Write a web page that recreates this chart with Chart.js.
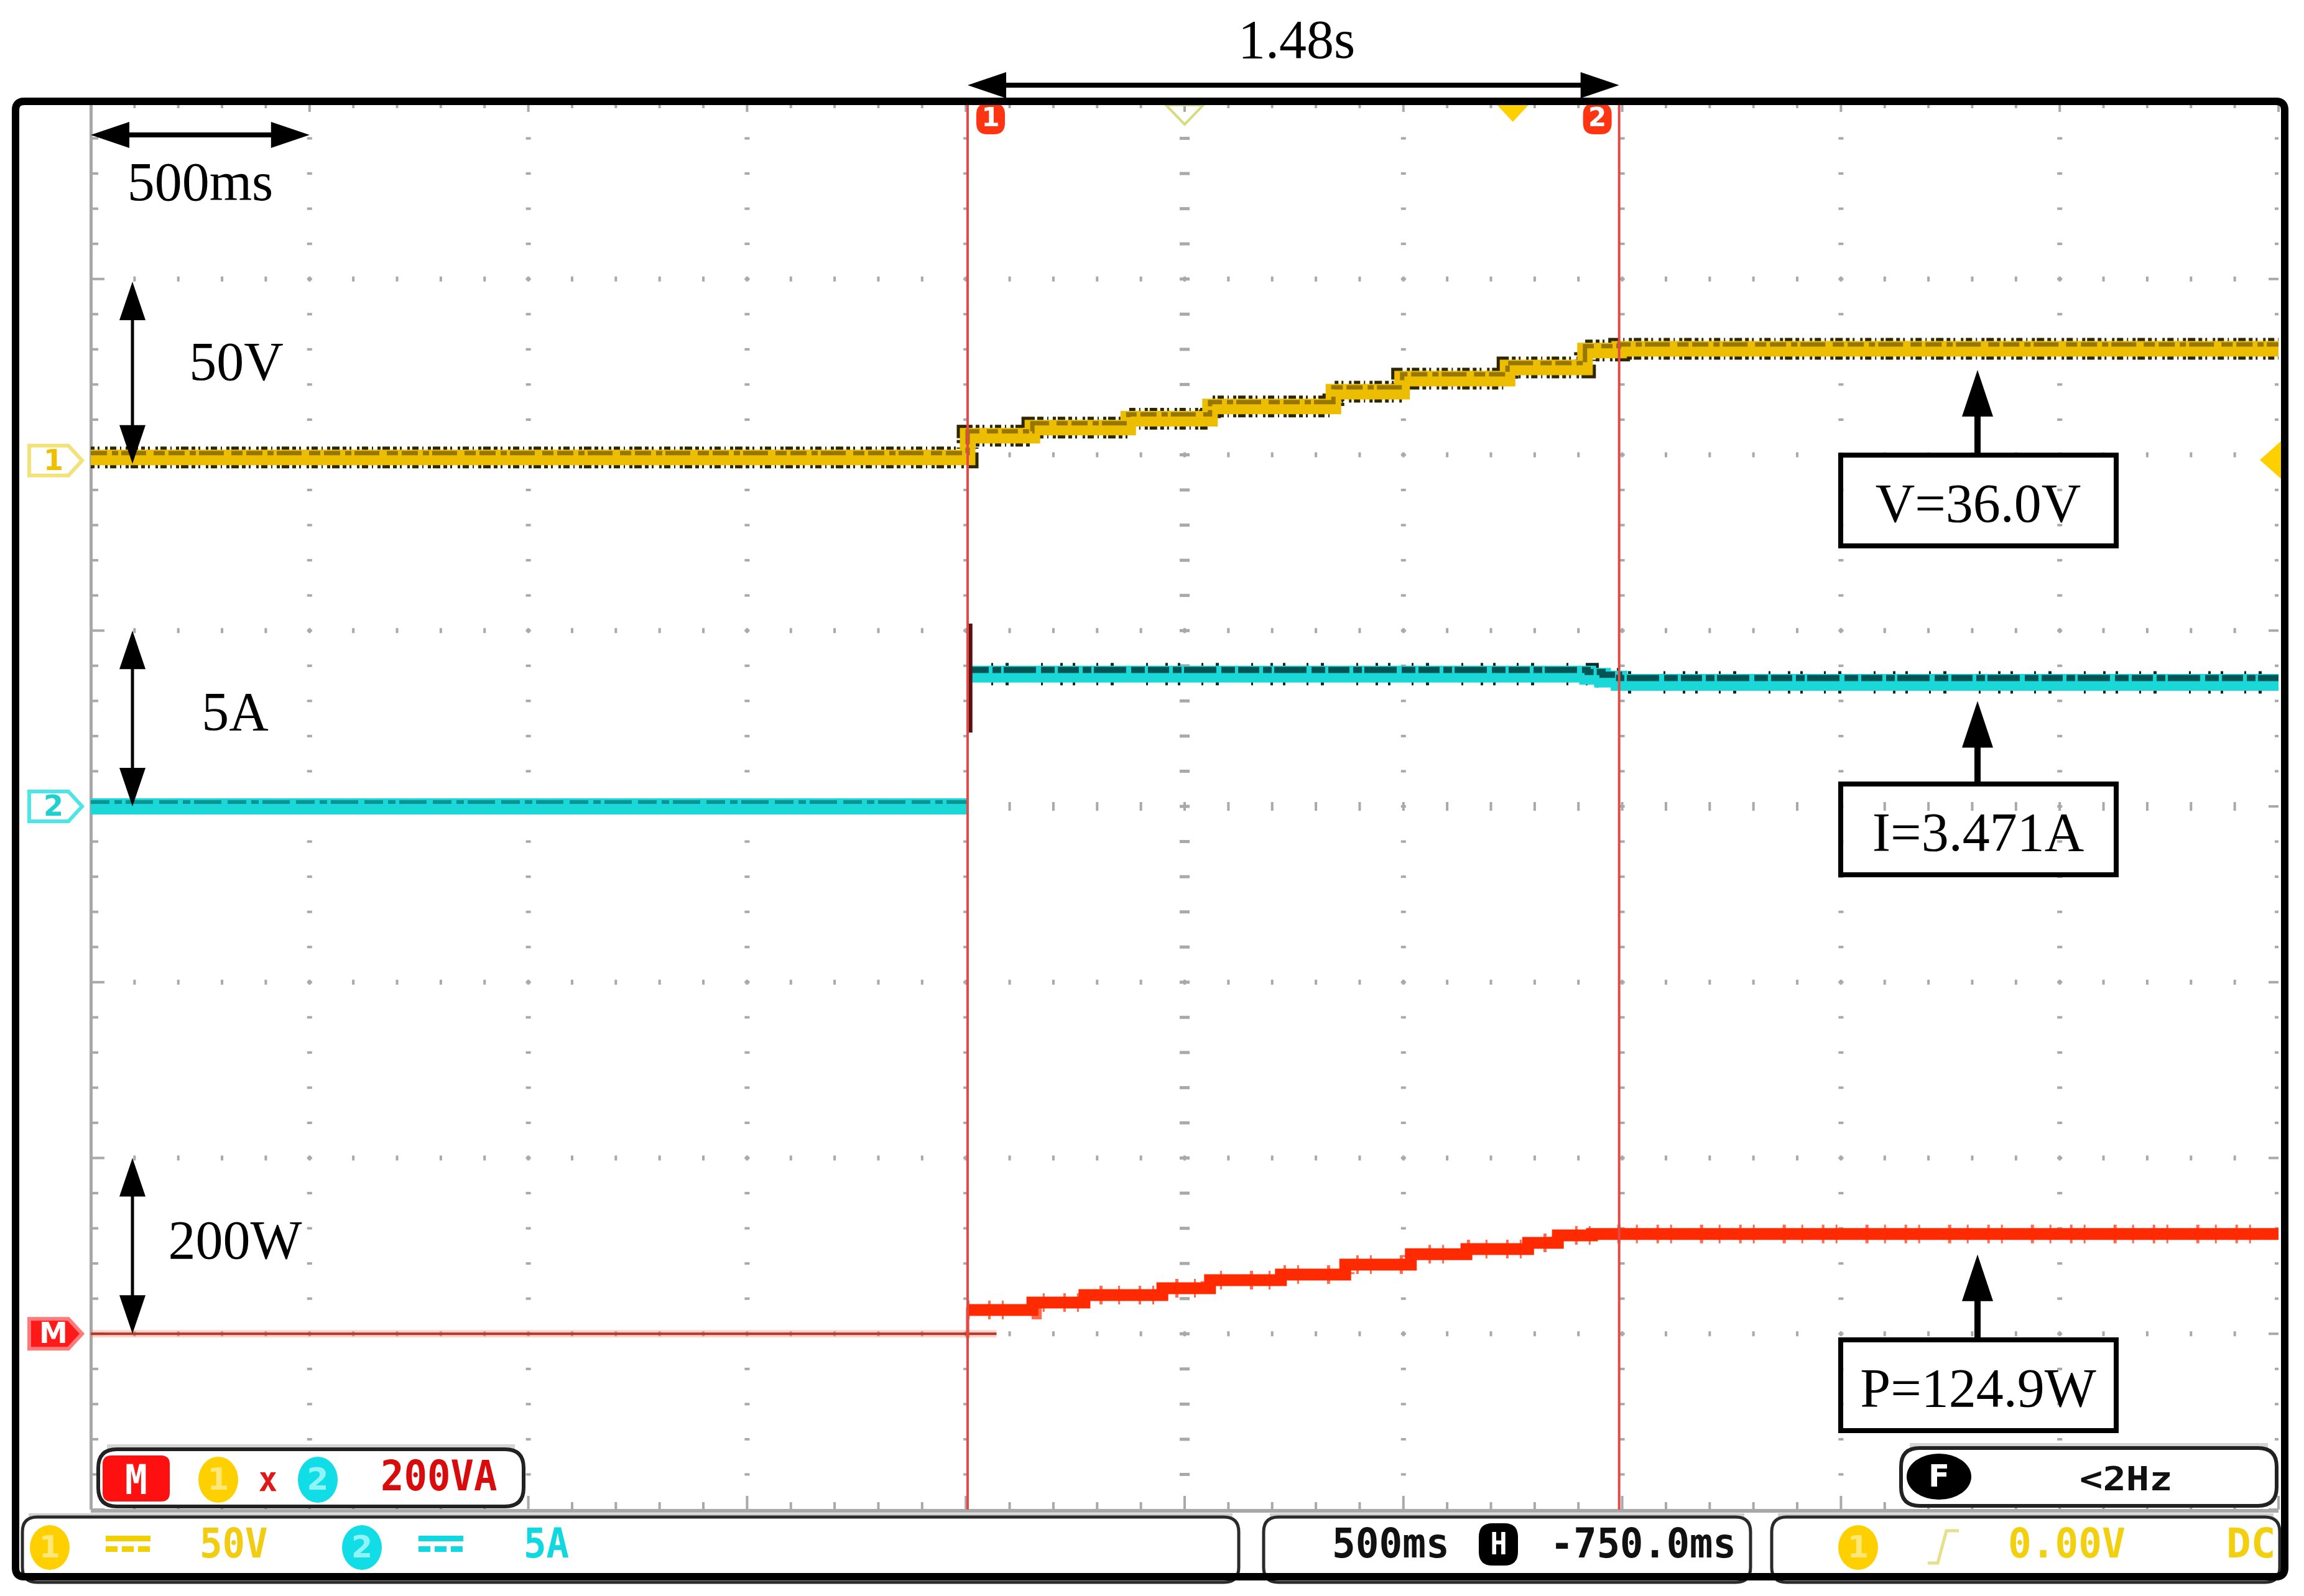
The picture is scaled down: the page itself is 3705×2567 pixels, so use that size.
<!DOCTYPE html>
<html>
<head>
<meta charset="utf-8">
<script src="https://cdn.jsdelivr.net/npm/chart.js@4.4.1/dist/chart.umd.min.js"></script>
<style>
  html, body { margin: 0; padding: 0; background: #fff; overflow: hidden; }
  canvas { display: block; }
</style>
</head>
<body>
<canvas id="scope" width="3705" height="2567"></canvas>
<script>
// scope settings: 10 x 8 divisions, 500 ms/div, trigger at t = 0
const timeRange = [-3.25, 1.75];
const timePerDiv = 0.5;
const voltsPerDiv = 50, ampsPerDiv = 5, wattsPerDiv = 200;
const cursorTimes = [-1.246, 0.243];

// CH1 voltage (V), stepped as the scope quantises it
const voltTimes  = [-3.25, -1.246, -1.098, -0.879, -0.692, -0.410, -0.253, -0.012, 0.165, 0.243, 1.75];
const voltValues = [0, 6.2, 8.5, 11.0, 14.5, 18.7, 22.4, 25.6, 30.4, 30.9, 30.9];

// CH2 current (A), before and after the step
const currOffTimes  = [-3.25, -1.246];
const currOffValues = [0, 0];
const currTimes  = [-1.246, 0.171, 0.205, 0.243, 1.75];
const currValues = [3.76, 3.70, 3.62, 3.53, 3.53];
const spikeTimes  = [-1.24, -1.24];
const spikeValues = [5.2, 2.1];

// M = CH1 x CH2 power (W)
const powerOffTimes  = [-3.25, -1.18];
const powerOffValues = [0, 0];
const powerEdgeTimes  = [-1.246, -1.246];
const powerEdgeValues = [-5, 30];
const powerTimes  = [-1.246, -1.098, -0.979, -0.801, -0.692, -0.530, -0.383, -0.233, -0.106, 0.035, 0.103, 0.181, 1.75];
const powerValues = [27, 35.6, 44, 51.8, 61, 67.4, 78.7, 90.6, 96.4, 103.4, 112, 113.5, 113.5];

// readouts
const readouts = ['V=36.0V', 'I=3.471A', 'P=124.9W'];

// ground positions, divisions from the top of the screen
const ch1Pos = 2.015, ch2Pos = 4, mathPos = 7;

function pts(ts, vs) { return ts.map((t, i) => ({ x: t, y: vs[i] })); }

const base = { pointRadius: 0, fill: false, tension: 0, borderCapStyle: 'butt', borderJoinStyle: 'miter' };
const vNoise = [6, 5, 3, 9, 4, 4, 10, 6, 2, 7, 5, 3, 12, 5];
const iNoise = [4, 34, 3, 20, 5, 52, 3, 28, 4, 16];

const datasets = [
  { ...base, label: 'V', data: pts(voltTimes, voltValues), yAxisID: 'yV', stepped: true,
    borderColor: '#edbe00', borderWidth: 25, order: 2 },
  { ...base, label: 'V noise', data: pts(voltTimes, voltValues), yAxisID: 'yV', stepped: true,
    borderColor: '#2e2600', borderWidth: 35, borderDash: vNoise, order: 3 },
  { ...base, label: 'V mottle', data: pts(voltTimes, voltValues), yAxisID: 'yVedge', stepped: true,
    borderColor: 'rgba(80,58,0,0.55)', borderWidth: 7, borderDash: [26, 8, 10, 5, 40, 12, 18, 6], order: 1 },
  { ...base, label: 'I off', data: pts(currOffTimes, currOffValues), yAxisID: 'yI',
    borderColor: '#1ad8d8', borderWidth: 26, order: 6 },
  { ...base, label: 'I off noise', data: pts(currOffTimes, currOffValues), yAxisID: 'yIedge',
    borderColor: 'rgba(0,90,90,0.55)', borderWidth: 6, borderDash: [30, 8, 12, 6, 44, 10], order: 5 },
  { ...base, label: 'I', data: pts(currTimes, currValues), yAxisID: 'yI', stepped: true,
    borderColor: '#1ad8d8', borderWidth: 27, order: 6 },
  { ...base, label: 'I noise', data: pts(currTimes, currValues), yAxisID: 'yI', stepped: true,
    borderColor: '#0a2a2a', borderWidth: 36, borderDash: iNoise, order: 7 },
  { ...base, label: 'I edge', data: pts(currTimes, currValues), yAxisID: 'yIedge', stepped: true,
    borderColor: 'rgba(0,62,62,0.85)', borderWidth: 10, borderDash: [34, 6, 14, 4, 52, 8, 22, 5], order: 5 },
  { ...base, label: 'I spike', data: pts(spikeTimes, spikeValues), yAxisID: 'yI',
    borderColor: '#5a1010', borderWidth: 7, order: 4 },
  { ...base, label: 'P off', data: pts(powerOffTimes, powerOffValues), yAxisID: 'yP',
    borderColor: '#b03a2a', borderWidth: 4, order: 10 },
  { ...base, label: 'P off halo', data: pts(powerOffTimes, powerOffValues), yAxisID: 'yP',
    borderColor: 'rgba(255,130,110,0.35)', borderWidth: 12, order: 11 },
  { ...base, label: 'P edge', data: pts(powerEdgeTimes, powerEdgeValues), yAxisID: 'yP',
    borderColor: '#ff2a00', borderWidth: 5, order: 8 },
  { ...base, label: 'P', data: pts(powerTimes, powerValues), yAxisID: 'yP', stepped: true,
    borderColor: '#ff2a00', borderWidth: 19, order: 8 },
  { ...base, label: 'P noise', data: pts(powerTimes, powerValues), yAxisID: 'yP', stepped: true,
    borderColor: '#ff6a50', borderWidth: 30, borderDash: [3, 30, 4, 18, 3, 45, 5, 25], order: 9 }
];

function rrect(ctx, x, y, w, h, r) {
  ctx.beginPath();
  ctx.moveTo(x + r, y);
  ctx.lineTo(x + w - r, y); ctx.quadraticCurveTo(x + w, y, x + w, y + r);
  ctx.lineTo(x + w, y + h - r); ctx.quadraticCurveTo(x + w, y + h, x + w - r, y + h);
  ctx.lineTo(x + r, y + h); ctx.quadraticCurveTo(x, y + h, x, y + h - r);
  ctx.lineTo(x, y + r); ctx.quadraticCurveTo(x, y, x + r, y);
  ctx.closePath();
}

function scopeText(ctx, str, x, y, size, color, sx, align) {
  ctx.save();
  ctx.translate(x, y);
  ctx.scale(sx, 1);
  ctx.font = 'bold ' + size + 'px "DejaVu Sans Mono"';
  ctx.fillStyle = color;
  ctx.textAlign = align || 'left';
  ctx.textBaseline = 'alphabetic';
  ctx.fillText(str, 0, 0);
  ctx.restore();
}

function serif(ctx, str, x, y) {
  ctx.font = '88px "Liberation Serif"';
  ctx.fillStyle = '#000';
  ctx.textAlign = 'center';
  ctx.textBaseline = 'alphabetic';
  ctx.fillText(str, x, y);
}

function head(ctx, tx, ty, dx, dy, len, half) {
  const bx = tx - dx * len, by = ty - dy * len;
  ctx.beginPath();
  ctx.moveTo(tx, ty);
  ctx.lineTo(bx - dy * half, by + dx * half);
  ctx.lineTo(bx + dy * half, by - dx * half);
  ctx.closePath();
  ctx.fill();
}

function dblArrowH(ctx, x1, x2, y) {
  ctx.fillStyle = '#000';
  ctx.fillRect(x1 + 40, y - 4, x2 - x1 - 80, 8);
  head(ctx, x1, y, -1, 0, 62, 21);
  head(ctx, x2, y, 1, 0, 62, 21);
}

function dblArrowV(ctx, x, y1, y2) {
  ctx.fillStyle = '#000';
  ctx.fillRect(x - 2.5, y1 + 40, 5, y2 - y1 - 80);
  head(ctx, x, y1, 0, -1, 62, 21);
  head(ctx, x, y2, 0, 1, 62, 21);
}

function disk(ctx, cx, cy, rx, ry, fill, digit, digitColor) {
  ctx.beginPath();
  ctx.ellipse(cx, cy, rx, ry, 0, 0, Math.PI * 2);
  ctx.fillStyle = fill;
  ctx.fill();
  ctx.font = 'bold ' + Math.round(ry * 1.35) + 'px "DejaVu Sans"';
  ctx.fillStyle = digitColor;
  ctx.textAlign = 'center';
  ctx.textBaseline = 'middle';
  ctx.fillText(digit, cx, cy + 3);
}

function tag(ctx, y, stroke, fill, text, textColor) {
  ctx.beginPath();
  ctx.moveTo(47, y - 24); ctx.lineTo(110, y - 24); ctx.lineTo(132, y);
  ctx.lineTo(110, y + 24); ctx.lineTo(47, y + 24); ctx.closePath();
  ctx.fillStyle = fill; ctx.fill();
  ctx.lineWidth = 6; ctx.strokeStyle = stroke; ctx.stroke();
  ctx.font = 'bold 46px "DejaVu Sans"';
  ctx.fillStyle = textColor;
  ctx.textAlign = 'center';
  ctx.textBaseline = 'middle';
  ctx.fillText(text, 86, y + 3);
}

function dcSymbol(ctx, x, color) {
  ctx.fillStyle = color;
  ctx.fillRect(x, 2470, 72, 9);
  for (let i = 0; i < 3; i++) ctx.fillRect(x + i * 26, 2487, 19, 9);
}

function innerBox(ctx, x1, x2, y1, y2) {
  ctx.fillStyle = '#d4d4d4';
  ctx.fillRect(x1 + 14, y1 - 8, x2 - x1 - 28, 8);
  rrect(ctx, x1, y1, x2 - x1, y2 - y1, 30);
  ctx.fillStyle = '#fff'; ctx.fill();
  ctx.lineWidth = 6; ctx.strokeStyle = '#222'; ctx.stroke();
}

function segment(ctx, x1, x2) {
  const top = 2440, bot = 2545;
  ctx.fillStyle = '#cfcfcf';
  ctx.fillRect(x1 + 10, top - 6, x2 - x1 - 20, 6);
  rrect(ctx, x1, top, x2 - x1, bot - top, 24);
  ctx.fillStyle = '#fff'; ctx.fill();
  ctx.lineWidth = 5; ctx.strokeStyle = '#2a2a2a'; ctx.stroke();
}

function drawGrid(chart) {
  const { ctx, chartArea: a } = chart;
  const xs = chart.scales.x, ys = chart.scales.yI;
  const topAmp = ch2Pos * ampsPerDiv;
  const rows = [], cols = [];
  for (let m = 0; m <= 40; m++) rows.push({ p: ys.getPixelForValue(topAmp - m * ampsPerDiv / 5), major: m % 5 === 0, i: m });
  for (let k = 0; k <= 50; k++) cols.push({ p: xs.getPixelForValue(timeRange[0] + k * timePerDiv / 5), major: k % 5 === 0, i: k });
  ctx.save();
  ctx.fillStyle = '#a9a9a9';
  cols.filter(c => c.major && c.i > 0 && c.i < 50).forEach(c => {
    const centre = c.i === 25;
    rows.forEach(r => {
      if (r.i === 0 || r.i === 40) return;
      if (centre) ctx.fillRect(c.p - 8, r.p - 2.5, 16, 5);
      else ctx.fillRect(c.p - 4, r.p - 2, 8, 4);
    });
  });
  rows.filter(r => r.major && r.i > 0 && r.i < 40).forEach(r => {
    const centre = r.i === 20;
    cols.forEach(c => {
      if (c.i === 0 || c.i === 50) return;
      if (centre) ctx.fillRect(c.p - 2, r.p - 7, 4, 14);
      else ctx.fillRect(c.p - 2, r.p - 4, 4, 8);
    });
  });
  // rulers on the edges
  rows.forEach(r => {
    const L = r.major ? 22 : 12;
    ctx.fillRect(a.left, r.p - 2, L, 4);
    ctx.fillRect(a.right - L + 6, r.p - 2, L - 6, 4);
  });
  cols.forEach(c => {
    const L = c.major ? 22 : 12;
    ctx.fillRect(c.p - 2, a.bottom - L, 4, L);
    ctx.fillRect(c.p - 2, a.top, 4, c.major ? 14 : 8);
  });
  ctx.fillStyle = '#a8a8a8';
  ctx.fillRect(a.left - 2, a.top, 5, a.bottom - a.top);
  ctx.fillRect(a.left, a.bottom - 1, a.right - a.left, 6);
  ctx.restore();
}

function drawOverlay(chart) {
  const { ctx, chartArea: a } = chart;
  const xs = chart.scales.x, yV = chart.scales.yV, yI = chart.scales.yI, yP = chart.scales.yP;
  ctx.save();

  // cursors
  const c1 = xs.getPixelForValue(cursorTimes[0]), c2 = xs.getPixelForValue(cursorTimes[1]);
  ctx.strokeStyle = '#e04a48';
  ctx.lineWidth = 4;
  [c1, c2].forEach(px => { ctx.beginPath(); ctx.moveTo(px, a.top); ctx.lineTo(px, a.bottom); ctx.stroke(); });
  [[c1 + 14, '1'], [c2 - 58, '2']].forEach(([bx, d]) => {
    rrect(ctx, bx, a.top, 46, 50, 18);
    ctx.fillStyle = '#ff3412'; ctx.fill();
    ctx.font = 'bold 42px "DejaVu Sans"';
    ctx.fillStyle = '#fff'; ctx.textAlign = 'center'; ctx.textBaseline = 'middle';
    ctx.fillText(d, bx + 23, a.top + 26);
  });

  // top markers: screen centre and trigger point
  const cx = xs.getPixelForValue(timeRange[0] + 5 * timePerDiv);
  ctx.beginPath(); ctx.moveTo(cx - 30, a.top + 3); ctx.lineTo(cx + 30, a.top + 3); ctx.lineTo(cx, a.top + 34); ctx.closePath();
  ctx.lineWidth = 4; ctx.strokeStyle = '#d8dc80'; ctx.stroke();
  const tx = xs.getPixelForValue(0);
  ctx.beginPath(); ctx.moveTo(tx - 26, a.top + 2); ctx.lineTo(tx + 26, a.top + 2); ctx.lineTo(tx, a.top + 30); ctx.closePath();
  ctx.fillStyle = '#ffd000'; ctx.fill();
  // trigger level on the right edge
  const tl = yV.getPixelForValue(0) + 4;
  ctx.beginPath(); ctx.moveTo(a.right - 30, tl); ctx.lineTo(a.right + 6, tl - 32); ctx.lineTo(a.right + 6, tl + 32); ctx.closePath();
  ctx.fillStyle = '#ffd000'; ctx.fill();

  // ground tags on the left
  tag(ctx, yV.getPixelForValue(0) + 5, '#f2e27a', '#fff', '1', '#f0c000');
  tag(ctx, yI.getPixelForValue(0), '#50e4e4', '#fff', '2', '#20d0d0');
  tag(ctx, yP.getPixelForValue(0), '#ff7a7a', '#ff1a1a', 'M', '#fff');

  // scale annotations
  dblArrowH(ctx, xs.getPixelForValue(timeRange[0]), xs.getPixelForValue(timeRange[0] + timePerDiv), 217);
  serif(ctx, '500ms', 322, 322);
  dblArrowH(ctx, c1, c2, 137);
  serif(ctx, '1.48s', 2085, 93);
  dblArrowV(ctx, 213, yV.getPixelForValue(voltsPerDiv), yV.getPixelForValue(0) + 10);
  serif(ctx, '50V', 380, 611);
  dblArrowV(ctx, 213, yI.getPixelForValue(ampsPerDiv), yI.getPixelForValue(0));
  serif(ctx, '5A', 378, 1174);
  dblArrowV(ctx, 213, yP.getPixelForValue(wattsPerDiv), yP.getPixelForValue(0));
  serif(ctx, '200W', 378, 2024);

  // readout boxes
  const tips = [
    yV.getPixelForValue(voltValues[voltValues.length - 1]) + 34,
    yI.getPixelForValue(currValues[currValues.length - 1]) + 30,
    yP.getPixelForValue(powerValues[powerValues.length - 1]) + 33
  ];
  const boxTops = [732, 1261, 2155];
  readouts.forEach((txt, i) => {
    const ax = 3180, t = tips[i], b = boxTops[i];
    ctx.fillStyle = '#000';
    ctx.fillRect(ax - 5, t + 60, 10, b - t - 60);
    head(ctx, ax, t, 0, -1, 75, 25);
    ctx.lineWidth = 8; ctx.strokeStyle = '#000';
    ctx.strokeRect(2960, b, 443, 146);
    serif(ctx, txt, 3181, b + 107);
  });

  // math box and frequency box inside the screen
  innerBox(ctx, 158, 842, 2331, 2423);
  rrect(ctx, 165, 2341, 108, 74, 14);
  ctx.fillStyle = '#ff1010'; ctx.fill();
  scopeText(ctx, 'M', 219, 2403, 66, '#fff', 0.9, 'center');
  disk(ctx, 351, 2380, 32, 37, '#ffd000', '1', '#ffe878');
  scopeText(ctx, 'x', 431, 2398, 56, '#e01818', 0.9, 'center');
  disk(ctx, 511, 2380, 32, 37, '#10dde6', '2', '#8ff4f8');
  scopeText(ctx, '200VA', 612, 2397, 67, '#d80c0c', 0.93);

  innerBox(ctx, 3057, 3661, 2329, 2422);
  disk(ctx, 3118, 2375, 52, 37, '#000', 'F', '#fff');
  scopeText(ctx, '<2Hz', 3344, 2397, 54, '#111', 1.15);

  // status bar
  segment(ctx, 36, 1992);
  segment(ctx, 2032, 2815);
  segment(ctx, 2849, 3666);
  disk(ctx, 80, 2489, 32, 36, '#ffd000', '1', '#ffe878');
  dcSymbol(ctx, 170, '#f2d000');
  scopeText(ctx, '50V', 321, 2505, 66, '#f2cc10', 0.92);
  disk(ctx, 582, 2489, 32, 36, '#10dde6', '2', '#8ff4f8');
  dcSymbol(ctx, 673, '#10d8e0');
  scopeText(ctx, '5A', 842, 2505, 66, '#10d8e0', 0.92);

  scopeText(ctx, '500ms', 2142, 2505, 66, '#111', 0.95);
  rrect(ctx, 2378, 2450, 63, 68, 22);
  ctx.fillStyle = '#000'; ctx.fill();
  scopeText(ctx, 'H', 2410, 2500, 50, '#fff', 0.9, 'center');
  scopeText(ctx, '-750.0ms', 2493, 2505, 66, '#111', 0.94);

  disk(ctx, 2988, 2489, 32, 36, '#ffd000', '1', '#ffe878');
  ctx.beginPath();
  ctx.moveTo(3100, 2514); ctx.lineTo(3116, 2514); ctx.lineTo(3130, 2462); ctx.lineTo(3150, 2462);
  ctx.lineWidth = 5; ctx.strokeStyle = '#e6e08a'; ctx.stroke();
  scopeText(ctx, '0.00V', 3229, 2505, 66, '#f2d010', 0.95);
  scopeText(ctx, 'DC', 3580, 2505, 66, '#f2d010', 1.0);

  // outer frame
  rrect(ctx, 25, 163, 3649, 2373, 14);
  ctx.lineWidth = 12; ctx.strokeStyle = '#000'; ctx.stroke();
  ctx.restore();
}

const scopePlugin = {
  id: 'scope',
  beforeDraw(chart) {
    const ctx = chart.ctx;
    ctx.save(); ctx.fillStyle = '#fff'; ctx.fillRect(0, 0, chart.width, chart.height); ctx.restore();
  },
  beforeDatasetsDraw(chart) { drawGrid(chart); },
  afterDatasetsDraw(chart) { drawOverlay(chart); }
};

const edgeShiftV = 7 / 282.9 * voltsPerDiv;
const edgeShiftI = 7 / 282.9 * ampsPerDiv;

new Chart(document.getElementById('scope'), {
  type: 'line',
  data: { datasets },
  options: {
    responsive: false,
    devicePixelRatio: 1,
    animation: false,
    events: [],
    layout: { autoPadding: false, padding: { left: 146, top: 166, right: 41, bottom: 139 } },
    scales: {
      x: { type: 'linear', min: timeRange[0], max: timeRange[1], display: false },
      yV: { type: 'linear', display: false, min: -(8 - ch1Pos) * voltsPerDiv, max: ch1Pos * voltsPerDiv },
      yVedge: { type: 'linear', display: false, min: -(8 - ch1Pos) * voltsPerDiv - edgeShiftV, max: ch1Pos * voltsPerDiv - edgeShiftV },
      yI: { type: 'linear', display: false, min: -(8 - ch2Pos) * ampsPerDiv, max: ch2Pos * ampsPerDiv },
      yIedge: { type: 'linear', display: false, min: -(8 - ch2Pos) * ampsPerDiv - edgeShiftI, max: ch2Pos * ampsPerDiv - edgeShiftI },
      yP: { type: 'linear', display: false, min: -(8 - mathPos) * wattsPerDiv, max: mathPos * wattsPerDiv }
    },
    plugins: { legend: { display: false }, tooltip: { enabled: false } }
  },
  plugins: [scopePlugin]
});
</script>
</body>
</html>
